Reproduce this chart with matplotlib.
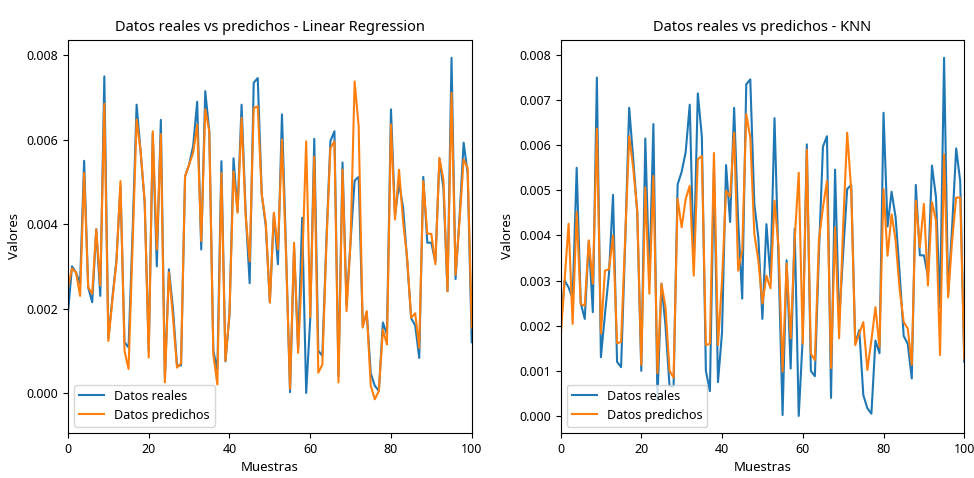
import numpy as np
import matplotlib.pyplot as plt

plt.rcParams['font.family'] = ['Noto Sans', 'DejaVu Sans']

muestras = np.arange(101)

reales = [0.00190, 0.00300, 0.00285, 0.00260, 0.00550, 0.00250, 0.00215, 0.00388, 0.00230, 0.00750,
          0.00130, 0.00225, 0.00315, 0.00490, 0.00120, 0.00108, 0.00380, 0.00683, 0.00570, 0.00450,
          0.00100, 0.00615, 0.00300, 0.00647, 0.00035, 0.00293, 0.00200, 0.00066, 0.00065, 0.00513,
          0.00541, 0.00585, 0.00690, 0.00340, 0.00715, 0.00620, 0.00100, 0.00055, 0.00549, 0.00075,
          0.00185, 0.00556, 0.00430, 0.00683, 0.00430, 0.00260, 0.00735, 0.00746, 0.00470, 0.00395,
          0.00215, 0.00425, 0.00305, 0.00660, 0.00340, 0.00002, 0.00345, 0.00105, 0.00415, 0.00000,
          0.00175, 0.00602, 0.00100, 0.00088, 0.00360, 0.00597, 0.00620, 0.00040, 0.00546, 0.00210,
          0.00360, 0.00503, 0.00512, 0.00160, 0.00190, 0.00046, 0.00017, 0.00005, 0.00167, 0.00139,
          0.00672, 0.00420, 0.00497, 0.00440, 0.00315, 0.00177, 0.00160, 0.00083, 0.00512, 0.00356,
          0.00356, 0.00310, 0.00555, 0.00485, 0.00241, 0.00794, 0.00270, 0.00420, 0.00593, 0.00520,
          0.00120]

pred_lr = [0.00250, 0.00295, 0.00285, 0.00230, 0.00521, 0.00250, 0.00235, 0.00388, 0.00255, 0.00685,
           0.00123, 0.00220, 0.00310, 0.00502, 0.00100, 0.00057, 0.00350, 0.00648, 0.00572, 0.00454,
           0.00084, 0.00620, 0.00340, 0.00613, 0.00025, 0.00286, 0.00180, 0.00060, 0.00070, 0.00513,
           0.00541, 0.00569, 0.00636, 0.00360, 0.00672, 0.00620, 0.00090, 0.00020, 0.00521, 0.00076,
           0.00187, 0.00525, 0.00427, 0.00652, 0.00420, 0.00312, 0.00675, 0.00679, 0.00470, 0.00403,
           0.00214, 0.00427, 0.00340, 0.00600, 0.00330, 0.00010, 0.00356, 0.00095, 0.00300, 0.00596,
           0.00180, 0.00560, 0.00048, 0.00067, 0.00350, 0.00580, 0.00596, 0.00025, 0.00529, 0.00194,
           0.00360, 0.00738, 0.00632, 0.00155, 0.00194, 0.00017, -0.00015, 0.00005, 0.00150, 0.00115,
           0.00636, 0.00411, 0.00529, 0.00407, 0.00320, 0.00178, 0.00189, 0.00107, 0.00502, 0.00377,
           0.00377, 0.00305, 0.00557, 0.00505, 0.00241, 0.00711, 0.00280, 0.00410, 0.00553, 0.00533,
           0.00155]

pred_knn = [0.00170, 0.00300, 0.00426, 0.00204, 0.00452, 0.00248, 0.00244, 0.00389, 0.00293, 0.00637,
            0.00183, 0.00322, 0.00325, 0.00400, 0.00161, 0.00164, 0.00390, 0.00620, 0.00550, 0.00455,
            0.00113, 0.00506, 0.00271, 0.00532, 0.00095, 0.00293, 0.00241, 0.00100, 0.00085, 0.00481,
            0.00418, 0.00481, 0.00510, 0.00311, 0.00569, 0.00576, 0.00157, 0.00160, 0.00583, 0.00157,
            0.00300, 0.00499, 0.00486, 0.00628, 0.00322, 0.00366, 0.00669, 0.00617, 0.00404, 0.00344,
            0.00249, 0.00311, 0.00283, 0.00477, 0.00374, 0.00098, 0.00338, 0.00172, 0.00390, 0.00539,
            0.00160, 0.00590, 0.00138, 0.00124, 0.00390, 0.00462, 0.00521, 0.00106, 0.00418, 0.00172,
            0.00420, 0.00628, 0.00500, 0.00157, 0.00183, 0.00208, 0.00102, 0.00168, 0.00241, 0.00153,
            0.00503, 0.00355, 0.00447, 0.00389, 0.00280, 0.00208, 0.00194, 0.00113, 0.00477, 0.00374,
            0.00470, 0.00289, 0.00474, 0.00433, 0.00135, 0.00580, 0.00263, 0.00389, 0.00484, 0.00484,
            0.00128]

fig, (ax1, ax2) = plt.subplots(1, 2, figsize=(9.74, 4.78), dpi=100)
fig.subplots_adjust(left=0.0698, right=0.990, bottom=0.094, top=0.917, wspace=0.22)

for ax, pred, nombre, ylim in [(ax1, pred_lr, "Linear Regression", (-0.00095, 0.00837)),
                                (ax2, pred_knn, "KNN", (-0.00038, 0.00834))]:
    ax.plot(muestras, reales, label="Datos reales")
    ax.plot(muestras, pred, label="Datos predichos")
    ax.set_title("Datos reales vs predichos - %s" % nombre, fontsize=10.5)
    ax.set_xlabel("Muestras", fontsize=9.5)
    ax.set_ylabel("Valores", fontsize=9.5)
    ax.set_xlim(0, 100)
    ax.set_ylim(*ylim)
    ax.tick_params(labelsize=9)
    ax.legend(loc="lower left", fontsize=9)

ax1.set_yticks([0.0, 0.002, 0.004, 0.006, 0.008])
ax2.set_yticks([0.0, 0.001, 0.002, 0.003, 0.004, 0.005, 0.006, 0.007, 0.008])

plt.savefig("out.png")
